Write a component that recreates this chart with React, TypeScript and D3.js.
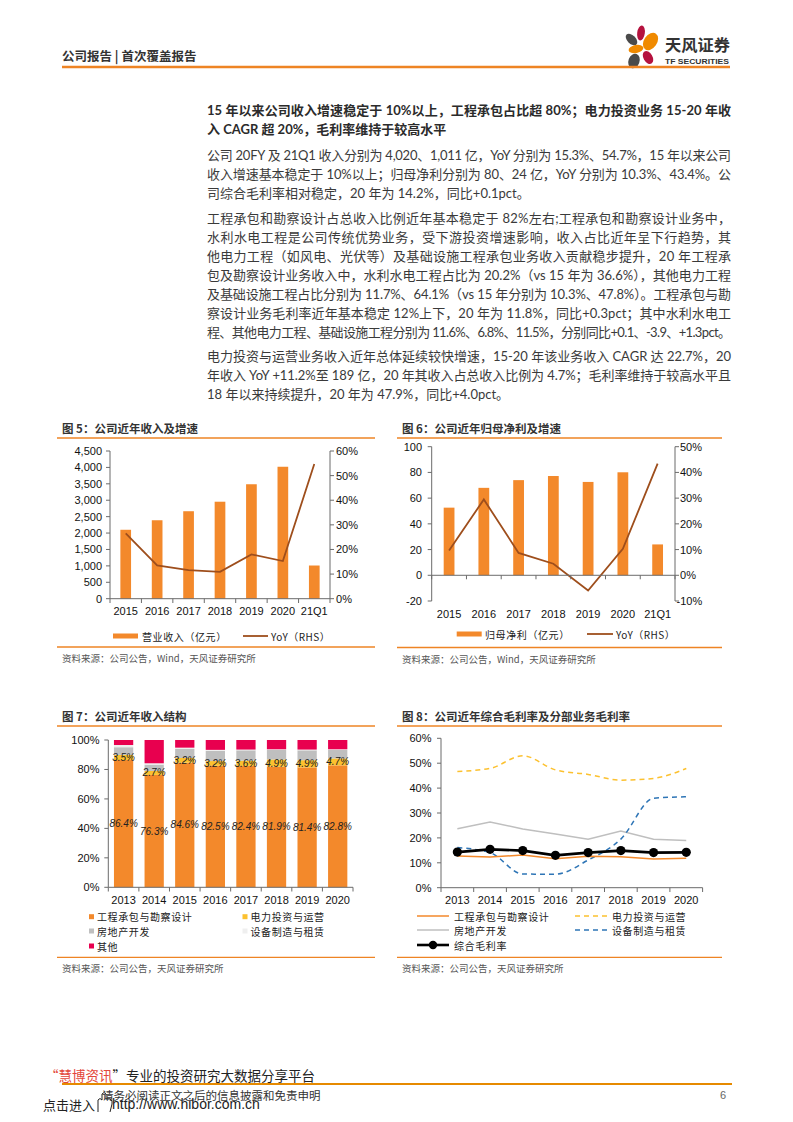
import React from 'react';
import * as d3 from 'd3';

// ---------------- DATA ----------------
const years5 = ['2015', '2016', '2017', '2018', '2019', '2020', '21Q1'];
const revenue = [2100, 2390, 2665, 2955, 3487, 4020, 1011];
const revenueYoY = [26.5, 13.5, 11.6, 10.9, 18.0, 15.3, 54.7];
const netProfit = [52.6, 68.0, 74.0, 77.2, 72.6, 80.1, 24.0];
const profitYoY = [9.6, 29.5, 8.7, 4.5, -5.9, 10.3, 43.4];
const revTicks = [0, 500, 1000, 1500, 2000, 2500, 3000, 3500, 4000, 4500];
const revYoYTicks = [0, 10, 20, 30, 40, 50, 60];
const profitTicks = [-20, 0, 20, 40, 60, 80, 100];
const profitYoYTicks = [-10, 0, 10, 20, 30, 40, 50];

const years8 = ['2013', '2014', '2015', '2016', '2017', '2018', '2019', '2020'];
const segEngineering = [86.4, 76.3, 84.6, 82.5, 82.4, 81.9, 81.4, 82.8];
const segPower = [3.5, 2.7, 3.2, 3.2, 3.6, 4.9, 4.9, 4.7];
const segRealEstate = [5.2, 4.3, 6.1, 7.0, 7.0, 6.4, 6.7, 5.7];
const segEquipment = [1.5, 0.9, 0.9, 0.6, 0.5, 0.5, 0.5, 0.5];
const segOther = [3.4, 15.8, 5.2, 6.7, 6.5, 6.3, 6.5, 6.3];
const shareTicks = [0, 20, 40, 60, 80, 100];

const marginEngineering = [12.7, 12.3, 13.1, 11.6, 12.6, 12.4, 11.5, 11.8];
const marginPower = [46.7, 47.9, 53.0, 47.3, 45.5, 43.2, 43.9, 47.9];
const marginRealEstate = [23.7, 26.4, 23.6, 21.6, 19.5, 22.8, 19.5, 19.0];
const marginEquipment = [16.1, 14.1, 5.5, 5.4, 11.1, 19.5, 35.9, 36.5];
const marginTotal = [14.3, 15.4, 14.9, 13.0, 14.1, 14.9, 14.1, 14.2];
const marginTicks = [0, 10, 20, 30, 40, 50, 60];

const segNames = ['工程承包与勘察设计', '电力投资与运营', '房地产开发', '设备制造与租赁', '其他'];

const titleLines = [
  '15 年以来公司收入增速稳定于 10%以上，工程承包占比超 80%；电力投资业务 15-20 年收',
  '入 CAGR 超 20%，毛利率维持于较高水平',
];
const para1 = [
  '公司 20FY 及 21Q1 收入分别为 4,020、1,011 亿，YoY 分别为 15.3%、54.7%，15 年以来公司',
  '收入增速基本稳定于 10%以上；归母净利分别为 80、24 亿，YoY 分别为 10.3%、43.4%。公',
  '司综合毛利率相对稳定，20 年为 14.2%，同比+0.1pct。',
];
const para2 = [
  '工程承包和勘察设计占总收入比例近年基本稳定于 82%左右;工程承包和勘察设计业务中，',
  '水利水电工程是公司传统优势业务，受下游投资增速影响，收入占比近年呈下行趋势，其',
  '他电力工程（如风电、光伏等）及基础设施工程承包业务收入贡献稳步提升，20 年工程承',
  '包及勘察设计业务收入中，水利水电工程占比为 20.2%（vs 15 年为 36.6%），其他电力工程',
  '及基础设施工程占比分别为 11.7%、64.1%（vs 15 年分别为 10.3%、47.8%）。工程承包与勘',
  '察设计业务毛利率近年基本稳定 12%上下，20 年为 11.8%，同比+0.3pct；其中水利水电工',
  '程、其他电力工程、基础设施工程分别为 11.6%、6.8%、11.5%，分别同比+0.1、-3.9、+1.3pct。',
];
const para3 = [
  '电力投资与运营业务收入近年总体延续较快增速，15-20 年该业务收入 CAGR 达 22.7%，20',
  '年收入 YoY +11.2%至 189 亿，20 年其收入占总收入比例为 4.7%；毛利率维持于较高水平且',
  '18 年以来持续提升，20 年为 47.9%，同比+4.0pct。',
];

// ---------------- STYLE ----------------
const ORANGE = '#F3892B';
const BROWN = '#9E4E1C';
const RULE = '#EE8424';
const AXIS = '#6b6b6b';
const TXT = '#333';
const CJK = "'Noto Sans CJK SC', sans-serif";
const BODY = "Lato, 'Noto Sans CJK SC', sans-serif";
const NUM = "'Liberation Sans', Arial, sans-serif";
const C_YELLOW = '#FCC12F';
const C_GRAY = '#BFBFBF';
const C_LIGHT = '#EFEFEF';
const C_PINK = '#E8004F';
const C_BLUE = '#2E75B6';

function Section({ x1, x2, title, tx, ty, lineTop, lineBottom, source }: any) {
  return (
    <g>
      <text x={tx} y={ty} fontFamily={CJK} fontWeight={700} fontSize={11.5} fill={TXT} dominantBaseline="central">{title}</text>
      <line x1={x1} x2={x2} y1={lineTop} y2={lineTop} stroke={RULE} strokeWidth={1.3} />
      <line x1={x1} x2={x2} y1={lineBottom} y2={lineBottom} stroke={RULE} strokeWidth={1.3} />
      <text x={tx} y={lineBottom + 11} fontFamily={CJK} fontSize={9.5} fill="#555" dominantBaseline="central">{source}</text>
    </g>
  );
}

function Chart5() {
  const x = d3.scaleBand<string>().domain(years5).range([110, 330]).paddingInner(0.66).paddingOuter(0.33);
  const yL = d3.scaleLinear().domain([0, 4500]).range([598.7, 451]);
  const yR = d3.scaleLinear().domain([0, 60]).range([598.7, 451]);
  const cx = (d: string) => (x(d) as number) + x.bandwidth() / 2;
  const line = d3.line<number>().x((_, i) => cx(years5[i])).y((d) => yR(d));
  const step = x.step();
  const fmt = d3.format(',');
  return (
    <g>
      {revenue.map((v, i) => (
        <rect key={i} x={x(years5[i])} y={yL(v)} width={x.bandwidth()} height={yL(0) - yL(v)} fill={ORANGE} />
      ))}
      <path d={line(revenueYoY) as string} fill="none" stroke={BROWN} strokeWidth={1.8} />
      <line x1={110} x2={110} y1={451} y2={598.7} stroke={AXIS} />
      <line x1={330} x2={330} y1={451} y2={598.7} stroke={AXIS} />
      <line x1={110} x2={330} y1={598.7} y2={598.7} stroke={AXIS} />
      {revTicks.map((t) => (
        <g key={t}>
          <line x1={106} x2={110} y1={yL(t)} y2={yL(t)} stroke={AXIS} />
          <text x={102} y={yL(t)} textAnchor="end" dominantBaseline="central" fontFamily={NUM} fontSize={11} fill="#111">{fmt(t)}</text>
        </g>
      ))}
      {revYoYTicks.map((t) => (
        <g key={t}>
          <line x1={330} x2={334} y1={yR(t)} y2={yR(t)} stroke={AXIS} />
          <text x={336} y={yR(t)} dominantBaseline="central" fontFamily={NUM} fontSize={11} fill="#111">{t}%</text>
        </g>
      ))}
      {d3.range(years5.length + 1).map((i) => (
        <line key={i} x1={110 + i * step} x2={110 + i * step} y1={598.7} y2={603} stroke={AXIS} />
      ))}
      {years5.map((c) => (
        <text key={c} x={cx(c)} y={611} textAnchor="middle" dominantBaseline="central" fontFamily={NUM} fontSize={11} fill="#111">{c}</text>
      ))}
      <rect x={113} y={633.5} width={25} height={5} fill={ORANGE} />
      <text x={142} y={636} dominantBaseline="central" fontFamily={CJK} fontSize={10} letterSpacing={0.6} fill="#222">营业收入（亿元）</text>
      <line x1={243} x2={268} y1={636} y2={636} stroke={BROWN} strokeWidth={1.8} />
      <text x={271} y={636} dominantBaseline="central" fontFamily={CJK} fontSize={10} letterSpacing={0.5} fill="#222">YoY（RHS）</text>
    </g>
  );
}

function Chart6() {
  const x = d3.scaleBand<string>().domain(years5).range([431.7, 675]).paddingInner(0.69).paddingOuter(0.345);
  const yL = d3.scaleLinear().domain([-20, 100]).range([601, 446.7]);
  const yR = d3.scaleLinear().domain([-10, 50]).range([601, 446.7]);
  const cx = (d: string) => (x(d) as number) + x.bandwidth() / 2;
  const line = d3.line<number>().x((_, i) => cx(years5[i])).y((d) => yR(d));
  const step = x.step();
  const y0 = yL(0);
  return (
    <g>
      {netProfit.map((v, i) => (
        <rect key={i} x={x(years5[i])} y={yL(v)} width={x.bandwidth()} height={y0 - yL(v)} fill={ORANGE} />
      ))}
      <path d={line(profitYoY) as string} fill="none" stroke={BROWN} strokeWidth={1.8} />
      <line x1={431.7} x2={431.7} y1={446.7} y2={601} stroke={AXIS} />
      <line x1={675} x2={675} y1={446.7} y2={601} stroke={AXIS} />
      <line x1={431.7} x2={675} y1={y0} y2={y0} stroke={AXIS} />
      {profitTicks.map((t) => (
        <g key={t}>
          <line x1={427.7} x2={431.7} y1={yL(t)} y2={yL(t)} stroke={AXIS} />
          <text x={422} y={yL(t)} textAnchor="end" dominantBaseline="central" fontFamily={NUM} fontSize={11} fill="#111">{t}</text>
        </g>
      ))}
      {profitYoYTicks.map((t) => (
        <g key={t}>
          <line x1={675} x2={679} y1={yR(t)} y2={yR(t)} stroke={AXIS} />
          <text x={t < 0 ? 676.5 : 680} y={yR(t)} dominantBaseline="central" fontFamily={NUM} fontSize={11} fill="#111">{t}%</text>
        </g>
      ))}
      {d3.range(years5.length + 1).map((i) => (
        <line key={i} x1={431.7 + i * step} x2={431.7 + i * step} y1={y0} y2={y0 + 4} stroke={AXIS} />
      ))}
      {years5.map((c) => (
        <text key={c} x={cx(c)} y={614} textAnchor="middle" dominantBaseline="central" fontFamily={NUM} fontSize={11} fill="#111">{c}</text>
      ))}
      <rect x={456.7} y={631.5} width={25} height={5} fill={ORANGE} />
      <text x={485} y={634} dominantBaseline="central" fontFamily={CJK} fontSize={10} letterSpacing={0.6} fill="#222">归母净利（亿元）</text>
      <line x1={587} x2={613} y1={634} y2={634} stroke={BROWN} strokeWidth={1.8} />
      <text x={616} y={634} dominantBaseline="central" fontFamily={CJK} fontSize={10} letterSpacing={0.5} fill="#222">YoY（RHS）</text>
    </g>
  );
}

function Chart7() {
  const x = d3.scaleBand<string>().domain(years8).range([108.3, 353]).paddingInner(0.37).paddingOuter(0.185);
  const y = d3.scaleLinear().domain([0, 100]).range([887.3, 740]);
  const rows = years8.map((yr, i) => ({
    yr,
    a: segEngineering[i],
    b: segPower[i],
    c: segRealEstate[i],
    d: segEquipment[i],
    e: segOther[i],
  }));
  const keys = ['a', 'b', 'c', 'd', 'e'];
  const colors = [ORANGE, C_YELLOW, C_GRAY, C_LIGHT, C_PINK];
  const series = d3.stack<any>().keys(keys)(rows);
  const step = x.step();
  const cx = (d: string) => (x(d) as number) + x.bandwidth() / 2;
  const legend = [
    { name: segNames[0], c: ORANGE, lx: 89, ly: 916.7 },
    { name: segNames[1], c: C_YELLOW, lx: 242.5, ly: 916.7 },
    { name: segNames[2], c: C_GRAY, lx: 89, ly: 931 },
    { name: segNames[3], c: C_LIGHT, lx: 242.5, ly: 931 },
    { name: segNames[4], c: C_PINK, lx: 89, ly: 946 },
  ];
  return (
    <g>
      {series.map((s, k) => (
        <g key={k}>
          {s.map((d, i) => (
            <rect key={i} x={x(years8[i])} y={y(d[1])} width={x.bandwidth()} height={y(d[0]) - y(d[1])} fill={colors[k]} />
          ))}
        </g>
      ))}
      {series[0].map((d, i) => (
        <text key={'a' + i} x={cx(years8[i])} y={y((d[0] + d[1]) / 2)} textAnchor="middle" dominantBaseline="central" fontFamily={NUM} fontStyle="italic" fontSize={10} fill="#222">{segEngineering[i].toFixed(1)}%</text>
      ))}
      {series[1].map((d, i) => (
        <text key={'b' + i} x={cx(years8[i])} y={y((d[0] + d[1]) / 2)} textAnchor="middle" dominantBaseline="central" fontFamily={NUM} fontStyle="italic" fontSize={10} fill="#222">{segPower[i].toFixed(1)}%</text>
      ))}
      <line x1={108.3} x2={108.3} y1={740} y2={887.3} stroke={AXIS} />
      <line x1={108.3} x2={353} y1={887.3} y2={887.3} stroke={AXIS} />
      {shareTicks.map((t) => (
        <g key={t}>
          <line x1={104.3} x2={108.3} y1={y(t)} y2={y(t)} stroke={AXIS} />
          <text x={99.5} y={y(t)} textAnchor="end" dominantBaseline="central" fontFamily={NUM} fontSize={11} fill="#111">{t}%</text>
        </g>
      ))}
      {d3.range(years8.length + 1).map((i) => (
        <line key={i} x1={108.3 + i * step} x2={108.3 + i * step} y1={887.3} y2={891.5} stroke={AXIS} />
      ))}
      {years8.map((c) => (
        <text key={c} x={cx(c)} y={900} textAnchor="middle" dominantBaseline="central" fontFamily={NUM} fontSize={11} fill="#111">{c}</text>
      ))}
      {legend.map((l) => (
        <g key={l.name}>
          <rect x={l.lx} y={l.ly - 2.5} width={5} height={5} fill={l.c} />
          <text x={l.lx + 8} y={l.ly} dominantBaseline="central" fontFamily={CJK} fontSize={10} letterSpacing={0.6} fill="#222">{l.name}</text>
        </g>
      ))}
    </g>
  );
}

function Chart8() {
  const x = d3.scaleBand<string>().domain(years8).range([441, 702.6]);
  const y = d3.scaleLinear().domain([0, 60]).range([887.7, 738.3]);
  const cx = (d: string) => (x(d) as number) + x.bandwidth() / 2;
  const straight = d3.line<number>().x((_, i) => cx(years8[i])).y((d) => y(d));
  const smooth = d3.line<number>().x((_, i) => cx(years8[i])).y((d) => y(d)).curve(d3.curveMonotoneX);
  const step = x.step();
  const items = [
    { name: segNames[0], lx: 417, ly: 916 },
    { name: segNames[1], lx: 575, ly: 916 },
    { name: segNames[2], lx: 417, ly: 930 },
    { name: segNames[3], lx: 575, ly: 930 },
    { name: '综合毛利率', lx: 417, ly: 945 },
  ];
  const styles = [
    { stroke: ORANGE, w: 1.5, dash: undefined },
    { stroke: C_YELLOW, w: 1.5, dash: '5,4' },
    { stroke: C_GRAY, w: 1.5, dash: undefined },
    { stroke: C_BLUE, w: 1.5, dash: '5,4' },
    { stroke: '#000', w: 2.6, dash: undefined },
  ];
  return (
    <g>
      <line x1={441} x2={441} y1={738.3} y2={887.7} stroke={AXIS} />
      <line x1={441} x2={702.6} y1={887.7} y2={887.7} stroke={AXIS} />
      {marginTicks.map((t) => (
        <g key={t}>
          <line x1={437} x2={441} y1={y(t)} y2={y(t)} stroke={AXIS} />
          <text x={431.5} y={y(t)} textAnchor="end" dominantBaseline="central" fontFamily={NUM} fontSize={11} fill="#111">{t}%</text>
        </g>
      ))}
      {d3.range(years8.length + 1).map((i) => (
        <line key={i} x1={441 + i * step} x2={441 + i * step} y1={887.7} y2={892} stroke={AXIS} />
      ))}
      {years8.map((c) => (
        <text key={c} x={cx(c)} y={900} textAnchor="middle" dominantBaseline="central" fontFamily={NUM} fontSize={11} fill="#111">{c}</text>
      ))}
      <path d={straight(marginRealEstate) as string} fill="none" stroke={C_GRAY} strokeWidth={1.5} />
      <path d={smooth(marginPower) as string} fill="none" stroke={C_YELLOW} strokeWidth={1.5} strokeDasharray="5,4" />
      <path d={smooth(marginEquipment) as string} fill="none" stroke={C_BLUE} strokeWidth={1.5} strokeDasharray="5,4" />
      <path d={straight(marginEngineering) as string} fill="none" stroke={ORANGE} strokeWidth={1.5} />
      <path d={straight(marginTotal) as string} fill="none" stroke="#000" strokeWidth={2.6} />
      {marginTotal.map((v, i) => (
        <circle key={i} cx={cx(years8[i])} cy={y(v)} r={4.6} fill="#000" />
      ))}
      {items.map((it, k) => (
        <g key={it.name}>
          <line x1={it.lx} x2={it.lx + 32} y1={it.ly} y2={it.ly} stroke={styles[k].stroke} strokeWidth={styles[k].w} strokeDasharray={styles[k].dash} />
          {k === 4 && <circle cx={it.lx + 16} cy={it.ly} r={4.2} fill="#000" />}
          <text x={it.lx + 37} y={it.ly} dominantBaseline="central" fontFamily={CJK} fontSize={10} letterSpacing={0.6} fill="#222">{it.name}</text>
        </g>
      ))}
    </g>
  );
}

function Paragraph({ lines, y0, bold = false, justifyLast = false }: any) {
  return (
    <g>
      {lines.map((l: string, i: number) => {
        const last = i === lines.length - 1;
        const justify = !last || justifyLast;
        return (
          <text
            key={i}
            x={207}
            y={y0 + i * 19}
            dominantBaseline="central"
            fontFamily={BODY}
            fontWeight={bold ? 700 : 400}
            fontSize={13}
            fill={bold ? '#2b2b2b' : '#3a3a3a'}
            {...(justify ? { textLength: 524, lengthAdjust: 'spacing' } : {})}
          >
            {l}
          </text>
        );
      })}
    </g>
  );
}

function Logo() {
  return (
    <g>
      <ellipse cx={631.5} cy={39.5} rx={7} ry={4.2} transform="rotate(45 631.5 39.5)" fill="#4a4a4a" />
      <ellipse cx={641} cy={33} rx={3.8} ry={7.5} transform="rotate(8 641 33)" fill="#B5123E" />
      <ellipse cx={650.5} cy={41.5} rx={6.5} ry={9.5} transform="rotate(35 650.5 41.5)" fill="#F08A00" />
      <ellipse cx={636} cy={49} rx={7.5} ry={4} transform="rotate(-12 636 49)" fill="#F08A00" />
      <ellipse cx={648} cy={57.5} rx={4.5} ry={7} transform="rotate(-30 648 57.5)" fill="#B5123E" />
      <ellipse cx={634} cy={61} rx={5.5} ry={7.5} transform="rotate(20 634 61)" fill="#4a4a4a" />
      <text x={665} y={44} dominantBaseline="central" fontFamily={CJK} fontWeight={700} fontSize={16} textLength={65} lengthAdjust="spacingAndGlyphs" fill="#333">天风证券</text>
      <text x={665} y={61} dominantBaseline="central" fontFamily={NUM} fontWeight={700} fontSize={6.5} textLength={64} lengthAdjust="spacingAndGlyphs" fill="#333">TF SECURITIES</text>
    </g>
  );
}

export default function App() {
  return (
    <svg width={793} height={1122} viewBox="0 0 793 1122" style={{ position: 'absolute', left: 0, top: 0, background: '#fff' }}>
      <rect width={793} height={1122} fill="#fff" />
      {/* header */}
      <text x={62} y={55} dominantBaseline="central" fontFamily={CJK} fontWeight={700} fontSize={12.5} fill="#333">公司报告 | 首次覆盖报告</text>
      <Logo />
      <line x1={62} x2={730} y1={67} y2={67} stroke={RULE} strokeWidth={2.5} />

      {/* body text */}
      <Paragraph lines={titleLines} y0={110} bold />
      <Paragraph lines={para1} y0={155} />
      <Paragraph lines={para2} y0={218} justifyLast />
      <Paragraph lines={para3} y0={356} />

      {/* charts */}
      <Section x1={57} x2={375} tx={62} ty={428} lineTop={438} lineBottom={647} title="图 5：公司近年收入及增速" source="资料来源：公司公告，Wind，天风证券研究所" />
      <Chart5 />
      <Section x1={397} x2={722} tx={402} ty={428} lineTop={438} lineBottom={647.5} title="图 6：公司近年归母净利及增速" source="资料来源：公司公告，Wind，天风证券研究所" />
      <Chart6 />
      <Section x1={57} x2={375} tx={62} ty={716} lineTop={726} lineBottom={957.3} title="图 7：公司近年收入结构" source="资料来源：公司公告，天风证券研究所" />
      <Chart7 />
      <Section x1={397} x2={722} tx={402} ty={716} lineTop={726} lineBottom={957.3} title="图 8：公司近年综合毛利率及分部业务毛利率" source="资料来源：公司公告，天风证券研究所" />
      <Chart8 />

      {/* footer */}
      <text x={45} y={1075} dominantBaseline="central" fontFamily={CJK} fontSize={13.5} fill="#222">
        <tspan fill="#E3463A">“慧博资讯</tspan>”专业的投资研究大数据分享平台
      </text>
      <line x1={62} x2={732} y1={1084} y2={1084} stroke="#E68A00" strokeWidth={2} />
      <text x={102} y={1095} dominantBaseline="central" fontFamily={CJK} fontSize={11.5} fill="#333">请务必阅读正文之后的信息披露和免责申明</text>
      <text x={43} y={1104} dominantBaseline="central" fontFamily={CJK} fontSize={13} fill="#222">点击进入</text>
      <path d="M98,1112 L98,1100 Q100,1097 102,1100 L102,1094 Q104,1091 106,1094 L106,1099 L110,1099 Q113,1100 112,1104 L110,1112" fill="none" stroke="#222" strokeWidth={1} />
      <text x={112} y={1104} dominantBaseline="central" fontFamily={NUM} fontSize={14} fill="#222">http://www.hibor.com.cn</text>
      <text x={720} y={1095} dominantBaseline="central" fontFamily={NUM} fontSize={11} fill="#666">6</text>
    </svg>
  );
}
